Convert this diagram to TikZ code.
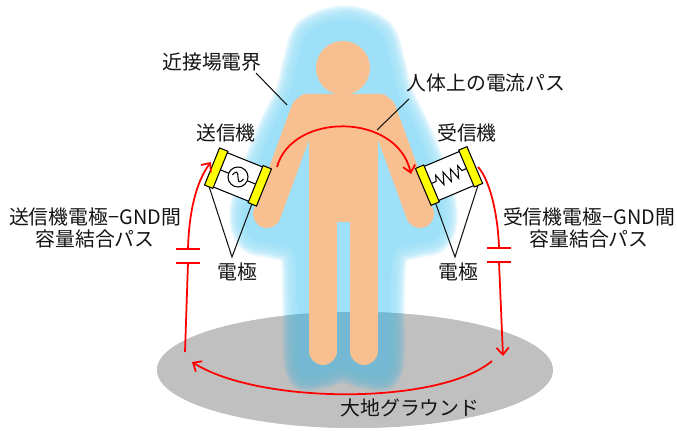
\documentclass[tikz,border=0pt]{standalone}
\usepackage{fontspec}
\setmainfont{Noto Sans CJK JP}
\usetikzlibrary{arrows.meta}

\definecolor{skin}{RGB}{248,192,144}
\definecolor{haze}{RGB}{158,224,247}
\definecolor{hazeground}{RGB}{116,184,211}
\definecolor{ground}{RGB}{192,192,192}
\definecolor{plate}{RGB}{255,255,0}
\definecolor{ink}{RGB}{20,20,20}

\tikzset{
  lbl/.style={font=\fontsize{11.3pt}{13pt}\selectfont, text=ink, inner sep=0pt, align=center},
  pointer/.style={draw=ink, line width=0.6pt},
  current/.style={draw=red, line width=1pt, -{Straight Barb[length=4pt,width=7pt]}},
  wire/.style={draw=red, line width=1pt},
  capplate/.style={draw=red, line width=1pt},
  limb/.style={draw=skin, line width=15.9pt, line cap=round},
  boxline/.style={draw=black, line width=0.6pt},
}

% soft near-field haze around the body, faded outwards by stacked strokes
\newcommand\hazeblur[1]{%
  \foreach \k in {15,14,...,1}{%
    \draw[#1, opacity=0.16, line width=\k*1.134pt, line join=round]
      plot[smooth cycle, tension=0.6] coordinates {(345,20) (379,32) (390,60) (398,92) (416,130) (436,180) (443,215) (436,238) (414,244) (394,254) (390,300) (388,370) (365,374) (343,368) (321,374) (300,370) (297,300) (294,254) (273,244) (251,238) (244,215) (252,180) (272,130) (290,92) (298,60) (309,32)};
  }
  \fill[#1] plot[smooth cycle, tension=0.6] coordinates {(345,20) (379,32) (390,60) (398,92) (416,130) (436,180) (443,215) (436,238) (414,244) (394,254) (390,300) (388,370) (365,374) (343,368) (321,374) (300,370) (297,300) (294,254) (273,244) (251,238) (244,215) (252,180) (272,130) (290,92) (298,60) (309,32)};
}

\begin{document}
\begin{tikzpicture}[x=0.02cm, y=-0.02cm]
\useasboundingbox (0,0) rectangle (677,431);

% ground plane
\fill[ground] (355,370) ellipse [x radius=198, y radius=58];

% near field haze (lighter above ground, darker where it lies on the ground)
\hazeblur{haze}
\begin{scope}
  \clip (355,370) ellipse [x radius=198, y radius=58];
  \fill[ground] (355,370) ellipse [x radius=198, y radius=58];
  \hazeblur{hazeground}
\end{scope}

% human body
\fill[skin, rounded corners=5pt] (297,94) rectangle (390,140);
\fill[skin] (309,120) rectangle (378,222);
\draw[limb] (305,110) -- (267,214);
\draw[limb] (382,110) -- (420,214);
\draw[limb] (323,200) -- (323,351);
\draw[limb] (364,200) -- (364,351);
\fill[skin] (343,68) circle [radius=27];

% current path over the body
\coordinate (arc-start) at (277,167);
\coordinate (arc-end) at (411,174);
\draw[current] (arc-start) .. controls (292,112) and (397,112) .. (arc-end);

% transmitter with AC source
\begin{scope}[shift={(238,177)}, rotate=-22]
  \draw[boxline, fill=white] (-23,-18.5) rectangle (23,18.5);
  \draw[boxline] (-19,0) -- (-10,0) (10,0) -- (19,0);
  \draw[boxline, fill=white] (0,0) circle [radius=10];
  \draw[boxline] (-6,0) sin (-3,-4) cos (0,0) sin (3,4) cos (6,0);
  \draw[boxline, fill=plate] (-28,-20) rectangle (-19,20);
  \draw[boxline, fill=plate] (19,-20) rectangle (28,20);
  \coordinate (tx-a) at (-23,20);
  \coordinate (tx-b) at (23,20);
\end{scope}

% receiver with load resistor
\begin{scope}[shift={(449,176)}, rotate=23]
  \draw[boxline, fill=white] (-23,-18.5) rectangle (23,18.5);
  \draw[boxline] (-19,0) -- (-14,0) -- (-12,-6) -- (-8,6) -- (-4,-6) -- (0,6) -- (4,-6) -- (8,6) -- (12,-6) -- (14,0) -- (19,0);
  \draw[boxline, fill=plate] (-28,-20) rectangle (-19,20);
  \draw[boxline, fill=plate] (19,-20) rectangle (28,20);
  \coordinate (rx-a) at (-23,20);
  \coordinate (rx-b) at (23,20);
\end{scope}

% transmitter side coupling path with capacitor
\coordinate (capL-top) at (188,249);
\coordinate (capL-bot) at (188,263);
\coordinate (L-start) at (185,352);
\coordinate (tx-in) at (211,162);
\draw[capplate] (capL-top) +(-12,0) -- +(12,0);
\draw[capplate] (capL-bot) +(-12,0) -- +(12,0);
\draw[wire] (L-start) -- (capL-bot);
\draw[current] (capL-top) .. controls (189,212) and (196,182) .. (tx-in);

% receiver side coupling path with capacitor
\coordinate (capR-top) at (499,248);
\coordinate (capR-bot) at (499,262);
\coordinate (rx-out) at (478,167);
\coordinate (R-end) at (503,356);
\draw[capplate] (capR-top) +(-12,0) -- +(12,0);
\draw[capplate] (capR-bot) +(-12,0) -- +(12,0);
\draw[wire] (rx-out) .. controls (490,180) and (498,215) .. (capR-top);
\draw[current] (capR-bot) -- (R-end);

% return path through the ground
\coordinate (B-start) at (492,361);
\coordinate (B-end) at (192,362);
\draw[current] (B-start) .. controls (440,405) and (260,405) .. (B-end);

% labels
\node[lbl] (nf) at (212,62) {近接場電界};
\node[lbl] (bp) at (486,83) {人体上の電流パス};
\node[lbl] (tx) at (226,133) {送信機};
\node[lbl] (rx) at (467,133) {受信機};
\node[lbl] (txc) at (95,228) {送信機電極−GND間\\容量結合パス};
\node[lbl] (rxc) at (589,228) {受信機電極−GND間\\容量結合パス};
\node[lbl] (txe) at (237,272) {電極};
\node[lbl] (rxe) at (458,272) {電極};
\node[lbl] (gnd) at (410,408) {大地グラウンド};

% pointer lines
\coordinate (nf-tail) at (256,73);
\coordinate (nf-tip) at (287,105);
\draw[pointer] (nf-tail) -- (nf-tip);
\coordinate (bp-tail) at (409,99);
\coordinate (bp-tip) at (377,130);
\draw[pointer] (bp-tail) -- (bp-tip);
\coordinate (txe-v) at (232,257);
\draw[pointer] (tx-a) -- (txe-v) -- (tx-b);
\coordinate (rxe-v) at (455,257);
\draw[pointer] (rx-a) -- (rxe-v) -- (rx-b);
\end{tikzpicture}
\end{document}
